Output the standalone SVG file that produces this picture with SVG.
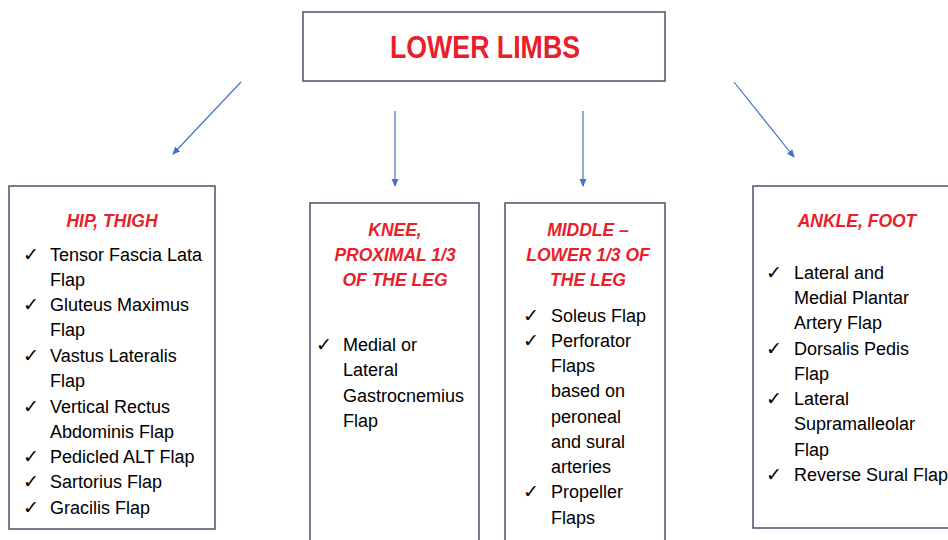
<svg xmlns="http://www.w3.org/2000/svg" width="948" height="540" viewBox="0 0 948 540">
<defs>
<marker id="ah" markerWidth="8" markerHeight="8" refX="7" refY="4" orient="auto" markerUnits="userSpaceOnUse">
<path d="M0,0.5 L8,4 L0,7.5 Z" fill="#4472C4"/>
</marker>
<style>
.box{fill:#fff;stroke:#44546A;stroke-width:1.5}
.conn{stroke:#4472C4;stroke-width:1.2;fill:none;marker-end:url(#ah)}
.title{font-family:"Liberation Sans",Arial,sans-serif;font-weight:bold;font-size:31px;fill:#E8202A;text-anchor:middle}
.hd{font-family:"Liberation Sans",Arial,sans-serif;font-weight:bold;font-style:italic;font-size:17.5px;fill:#E8202A;text-anchor:middle}
.it{font-family:"Liberation Sans",Arial,sans-serif;font-size:18px;fill:#000}
.ck{font-family:"DejaVu Sans",sans-serif;font-size:19px;fill:#000}
</style>
</defs>
<rect width="948" height="540" fill="#fff"/>
<g id="connectors">
<line class="conn" x1="241" y1="82" x2="173" y2="154"/>
<line class="conn" x1="395" y1="111" x2="395" y2="186"/>
<line class="conn" x1="583" y1="111" x2="583" y2="186"/>
<line class="conn" x1="734" y1="82" x2="794" y2="157"/>
</g>
<g id="root">
<rect class="box" x="303" y="12" width="362" height="69"/>
<text class="title" x="485" y="58" textLength="190" lengthAdjust="spacingAndGlyphs">LOWER LIMBS</text>
</g>
<g id="hip-thigh">
<rect class="box" x="9" y="186" width="206" height="343"/>
<text class="hd" x="112" y="227">HIP, THIGH</text>
<g class="ck">
<text x="23" y="261">✓</text><text x="23" y="311">✓</text><text x="23" y="362">✓</text><text x="23" y="413">✓</text><text x="23" y="463">✓</text><text x="23" y="488">✓</text><text x="23" y="514">✓</text>
</g>
<g class="it">
<text x="50" y="261">Tensor Fascia Lata</text>
<text x="50" y="286">Flap</text>
<text x="50" y="311">Gluteus Maximus</text>
<text x="50" y="336">Flap</text>
<text x="50" y="362">Vastus Lateralis</text>
<text x="50" y="387">Flap</text>
<text x="50" y="413">Vertical Rectus</text>
<text x="50" y="438">Abdominis Flap</text>
<text x="50" y="463">Pedicled ALT Flap</text>
<text x="50" y="488">Sartorius Flap</text>
<text x="50" y="514">Gracilis Flap</text>
</g>
</g>
<g id="knee">
<rect class="box" x="310" y="203" width="169" height="360"/>
<text class="hd" x="395" y="236">KNEE,</text>
<text class="hd" x="395" y="261">PROXIMAL 1/3</text>
<text class="hd" x="395" y="286">OF THE LEG</text>
<text class="ck" x="316" y="351">✓</text>
<g class="it">
<text x="343" y="351">Medial or</text>
<text x="343" y="376">Lateral</text>
<text x="343" y="402">Gastrocnemius</text>
<text x="343" y="427">Flap</text>
</g>
</g>
<g id="middle-lower">
<rect class="box" x="505" y="203" width="160" height="360"/>
<text class="hd" x="588" y="236">MIDDLE –</text>
<text class="hd" x="588" y="261">LOWER 1/3 OF</text>
<text class="hd" x="588" y="286">THE LEG</text>
<g class="ck">
<text x="523" y="322">✓</text><text x="523" y="347">✓</text><text x="523" y="498">✓</text>
</g>
<g class="it">
<text x="551" y="322">Soleus Flap</text>
<text x="551" y="347">Perforator</text>
<text x="551" y="372">Flaps</text>
<text x="551" y="397">based on</text>
<text x="551" y="423">peroneal</text>
<text x="551" y="448">and sural</text>
<text x="551" y="473">arteries</text>
<text x="551" y="498">Propeller</text>
<text x="551" y="524">Flaps</text>
</g>
</g>
<g id="ankle-foot">
<rect class="box" x="753" y="186" width="220" height="342"/>
<text class="hd" x="857" y="227">ANKLE, FOOT</text>
<g class="ck">
<text x="766" y="279">✓</text><text x="766" y="355">✓</text><text x="766" y="405">✓</text><text x="766" y="481">✓</text>
</g>
<g class="it">
<text x="794" y="279">Lateral and</text>
<text x="794" y="304">Medial Plantar</text>
<text x="794" y="329">Artery Flap</text>
<text x="794" y="355">Dorsalis Pedis</text>
<text x="794" y="380">Flap</text>
<text x="794" y="405">Lateral</text>
<text x="794" y="430">Supramalleolar</text>
<text x="794" y="456">Flap</text>
<text x="794" y="481">Reverse Sural Flap</text>
</g>
</g>
</svg>
